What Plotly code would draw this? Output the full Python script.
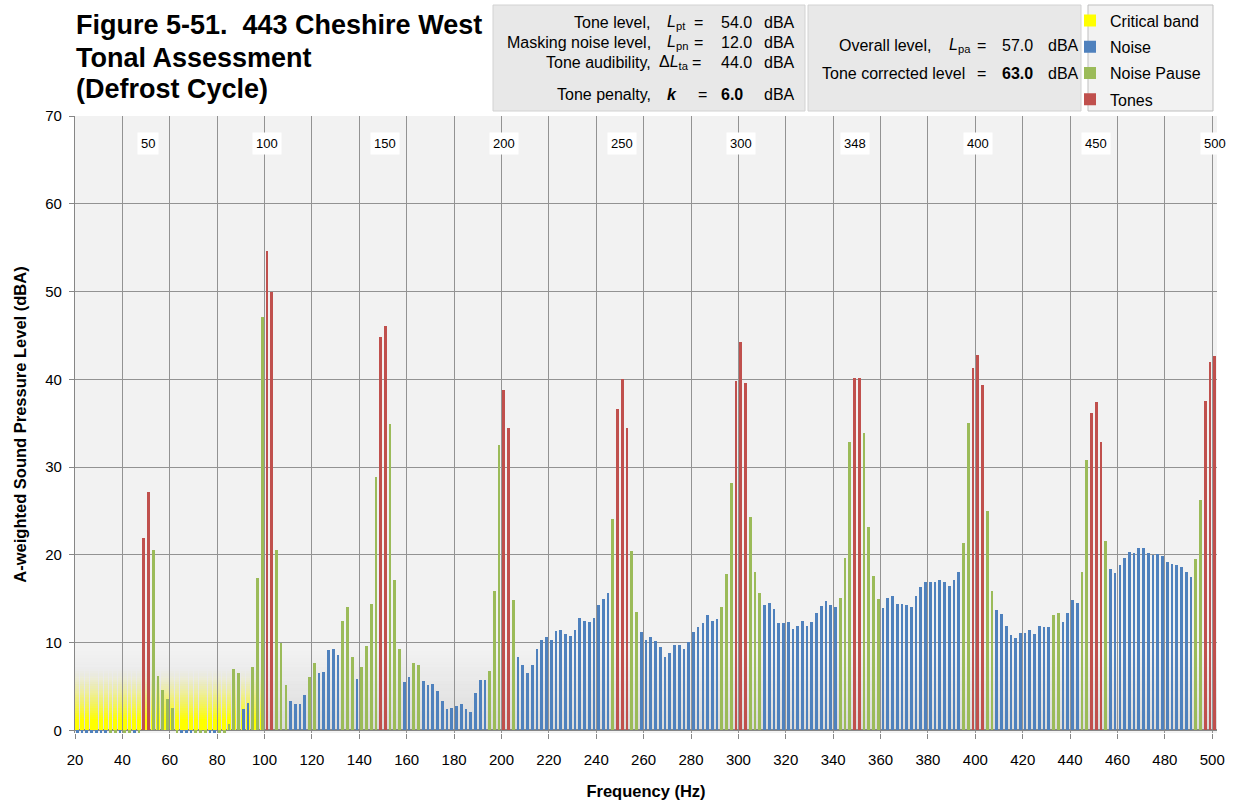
import plotly.graph_objects as go

# ---------------------------------------------------------------- data
BIN_HZ = 2
freqs = list(range(20, 501, BIN_HZ))

# A-weighted level per 2 Hz bin (dBA), 20 ... 500 Hz
levels = [
    -0.3, -0.3, -0.3, -0.3, -0.3, -0.3, -0.3, -0.3, -0.3, -0.3,   # 20-38
    -0.3, -0.3, -0.3, -0.3, 21.9, 27.2, 20.5, 6.2, 4.6, 3.6,      # 40-58
    2.6, -0.3, -0.3, -0.3, -0.3, -0.3, -0.3, -0.3, -0.3, -0.3,    # 60-78
    -0.3, -0.3, 0.7, 7.0, 6.5, 2.4, 3.1, 7.2, 17.4, 47.1,         # 80-98
    54.6, 49.9, 20.6, 9.9, 5.2, 3.4, 3.0, 3.0, 4.0, 6.1,          # 100-118
    7.65, 6.5, 6.6, 9.2, 9.25, 8.55, 12.5, 14.1, 8.4, 5.9,        # 120-138
    7.2, 9.6, 14.4, 28.9, 44.8, 46.1, 34.9, 17.1, 9.3, 5.5,       # 140-158
    6.1, 7.65, 7.5, 5.6, 5.2, 5.3, 4.5, 3.3, 2.4, 2.55,           # 160-178
    2.8, 3.0, 2.4, 2.1, 4.3, 5.75, 5.75, 6.8, 15.9, 32.5,         # 180-198
    38.8, 34.5, 14.9, 8.4, 7.5, 6.5, 7.5, 9.3, 10.3, 10.6,        # 200-218
    10.3, 11.3, 11.45, 11.0, 10.7, 11.45, 12.8, 12.5, 12.35, 12.8,  # 220-238
    14.25, 15.0, 15.6, 24.1, 36.6, 40.0, 34.4, 20.4, 13.5, 11.2,  # 240-258
    10.3, 10.6, 10.15, 9.55, 8.4, 8.8, 9.7, 9.7, 9.25, 10.1,      # 260-278
    11.2, 11.75, 12.2, 13.2, 12.5, 12.65, 14.1, 17.8, 28.2, 39.8, # 280-298
    44.2, 39.6, 24.3, 18.0, 15.7, 14.25, 14.5, 13.8, 12.2, 12.2,  # 300-318
    12.35, 11.6, 11.9, 12.5, 11.9, 12.35, 13.35, 14.2, 14.7, 14.25,  # 320-338
    14.1, 15.1, 19.6, 32.9, 40.2, 40.1, 33.9, 23.2, 17.6, 15.0,   # 340-358
    13.95, 15.1, 15.3, 14.4, 14.4, 14.25, 14.1, 15.3, 16.3, 16.9, # 360-378
    16.9, 16.9, 17.15, 16.9, 16.45, 17.15, 18.05, 21.4, 35.0, 41.3,  # 380-398
    42.8, 39.3, 25.0, 15.9, 13.7, 13.25, 11.9, 10.9, 10.5, 11.15, # 400-418
    11.15, 11.45, 11.0, 11.9, 11.75, 11.75, 13.2, 13.35, 12.35, 13.35,  # 420-438
    14.8, 14.5, 18.05, 30.8, 36.2, 37.4, 32.9, 21.6, 18.35, 17.9, # 440-458
    18.8, 19.65, 20.35, 20.2, 20.8, 20.8, 20.2, 20.0, 20.05, 19.9,  # 460-478
    19.2, 18.9, 18.8, 18.6, 18.05, 17.5, 19.5, 26.2, 37.5, 42.0,  # 480-498
    42.6,                                                          # 500
]

# bin classification: N = noise, P = noise pause, T = tone
classes = (
    "NNNNNNNPPNPPNP" "TT" "PPPPP" "PNNNPPPNNPP" "PPP" "NN" "PPP" "TT"
    "PPP" "NNNN" "PP" "NNNNN" "PPP" "N" "PPPP" "TT" "PPP" "NN" "PP"
    "NNNNNNNNNNNNNN" "PPP" "TT" "P" "NNNNNNNNNNNNNNNNNNNN" "P" "TTT" "PP"
    "NNNNNNNNNNNNNNNNN" "PPP" "TTT" "PPP" "NNNNNNNNNNNNNNNN" "PPP" "TT"
    "PPPP" "NNNNNNNNNNNNNNNNN" "PP" "TTT" "PP" "NNNNNNNNNNNN" "PP" "NNNN"
    "PP" "TTT" "P" "NNNNNNNNNNNNNNNNNN" "PP" "TTT"
)

# critical band shading
crit_freqs = list(range(20, 99, BIN_HZ))
CRIT_TOP = 7.0

# tone frequencies labelled along the top of the plot
tone_freqs = [50, 100, 150, 200, 250, 300, 348, 400, 450, 500]

x_ticks = list(range(20, 501, 20))
y_ticks = list(range(0, 71, 10))

# assessment results
tone_level = 54.0
masking_level = 12.0
audibility = 44.0
penalty = 6.0
overall_level = 57.0
corrected_level = 63.0

title_lines = ["Figure 5-51.\u00a0 443 Cheshire West", "Tonal Assessment", "(Defrost Cycle)"]

# ---------------------------------------------------------------- style
FONT = "Liberation Sans, Arial, sans-serif"
C_NOISE = "#4f81bd"
C_PAUSE = "#9bbb59"
C_TONE = "#c0504d"
C_CRIT = (255, 255, 0)
GRID = "#939393"
AXIS = "#868686"

W, H = 1241, 808
PL, PR, PT, PB = 75, 1217, 116, 733   # plot area in pixels
Y_MIN, Y_MAX = -0.3, 70
X_MIN, X_MAX = 20, 502

BAR_W = 1.15
CRIT_W = 1.65


def xp(px):
    return (px - PL) / (PR - PL)


def yp(py):
    return (PB - py) / (PB - PT)


fig = go.Figure()

# critical band: stacked translucent layers give a vertical fade
N_LAYERS = 28
dh = CRIT_TOP / N_LAYERS
for k in range(N_LAYERS):
    h = k * dh
    a = 1.0 if h < 1.0 else max(0.0, 1 - (h - 1.0) / (CRIT_TOP - 1.0)) ** 1.5
    fig.add_trace(go.Bar(
        x=crit_freqs, y=[dh] * len(crit_freqs), base=[h] * len(crit_freqs),
        width=CRIT_W, offset=BIN_HZ / 2 - CRIT_W / 2,
        marker=dict(color=f"rgba({C_CRIT[0]},{C_CRIT[1]},{C_CRIT[2]},{a:.3f})", line_width=0),
        name="Critical band", legendgroup="crit", showlegend=(k == 0),
        hoverinfo="skip",
    ))


def series(code):
    return [v if c == code else None for v, c in zip(levels, classes)]


for code, name, color in (("N", "Noise", C_NOISE),
                          ("P", "Noise Pause", C_PAUSE),
                          ("T", "Tones", C_TONE)):
    fig.add_trace(go.Bar(
        x=freqs, y=series(code), width=BAR_W, offset=BIN_HZ / 2 - BAR_W / 2,
        marker=dict(color=color, line_width=0), name=name, legendgroup=name,
    ))

shapes = []
# faint grey fade along the floor of the plot
G_TOP = 9.0
G_STEPS = 24
for k in range(G_STEPS):
    y0 = k * G_TOP / G_STEPS
    a = 0.42 * (1 - (k + 0.5) / G_STEPS)
    shapes.append(dict(type="rect", xref="x", yref="y", x0=X_MIN, x1=X_MAX,
                       y0=max(y0, 0), y1=y0 + G_TOP / G_STEPS, layer="below",
                       line_width=0, fillcolor=f"rgba(185,185,185,{a:.3f})"))

# info panels and legend frame
for x0, x1, fill, edge in ((493, 805, "#e8e8e8", "#d2d2d2"),
                           (808, 1081, "#e8e8e8", "#d2d2d2"),
                           (1088, 1213, "#f2f2f2", "#bfbfbf")):
    shapes.append(dict(type="rect", xref="paper", yref="paper",
                       x0=xp(x0), x1=xp(x1), y0=yp(111), y1=yp(5),
                       fillcolor=fill, line=dict(color=edge, width=1), layer="below"))

ann = []
for line, py in zip(title_lines, (25, 58, 89)):
    ann.append(dict(
        text=f"<b>{line}</b>", x=xp(74), y=yp(py), xref="paper", yref="paper",
        xanchor="left", yanchor="middle", align="left",
        font=dict(size=27, color="black", family=FONT), showarrow=False))


def cell(text, px, py, anchor):
    ann.append(dict(text=text, x=xp(px), y=yp(py), xref="paper", yref="paper",
                    xanchor=anchor, yanchor="middle", showarrow=False,
                    font=dict(size=16, color="black", family=FONT)))


rows = [
    ("Tone level,", "<i>L</i><sub>pt</sub>", 665, 699, f"{tone_level:.1f}", 22.5),
    ("Masking noise level,", "<i>L</i><sub>pn</sub>", 665, 699, f"{masking_level:.1f}", 42.5),
    ("Tone audibility,", "Δ<i>L</i><sub>ta</sub>", 657, 696, f"{audibility:.1f}", 62.5),
    ("Tone penalty,", "<b><i>k</i></b>", 665, 702, f"<b>{penalty:.1f}</b>", 94),
]
for label, sym, sx, ex, val, py in rows:
    cell(label, 653, py, "right")
    cell(sym, sx, py, "left")
    cell("=", ex, py, "center")
    cell(val, 719, py, "left")
    cell("dBA", 762, py, "left")

cell("Overall level,", 933, 45, "right")
cell("<i>L</i><sub>pa</sub>", 947, 45, "left")
cell("=", 982, 45, "center")
cell(f"{overall_level:.1f}", 1000, 45, "left")
cell("dBA", 1046, 45, "left")
cell("Tone corrected level", 967, 73, "right")
cell("=", 982, 73, "center")
cell(f"<b>{corrected_level:.1f}</b>", 1000, 73, "left")
cell("dBA", 1046, 73, "left")

# tone frequency tags
for f in tone_freqs:
    ann.append(dict(text=str(f), x=f + BIN_HZ / 2, y=66.85, xref="x", yref="y",
                    showarrow=False, bgcolor="white", borderpad=3,
                    font=dict(size=13, color="black", family=FONT)))

fig.update_layout(
    width=W, height=H, autosize=False,
    margin=dict(l=PL, r=W - PR, t=PT, b=H - PB, pad=0, autoexpand=False),
    paper_bgcolor="white", plot_bgcolor="#f2f2f2",
    barmode="overlay", bargap=0,
    font=dict(family=FONT, color="black"),
    shapes=shapes, annotations=ann,
    legend=dict(x=xp(1070), y=yp(3.5), xanchor="left", yanchor="top",
                bgcolor="rgba(0,0,0,0)", borderwidth=0, itemwidth=30,
                font=dict(size=16, family=FONT, color="black"),
                traceorder="grouped", tracegroupgap=2.5),
    xaxis=dict(range=[X_MIN, X_MAX], tickmode="array", tickvals=x_ticks,
               automargin=False,
               ticks="outside", ticklen=5, tickcolor=AXIS, tickwidth=1,
               ticklabelstandoff=8,
               showgrid=True, gridcolor=GRID, gridwidth=1.3,
               showline=False, zeroline=False,
               tickfont=dict(size=15, family=FONT, color="black"),
               title=dict(text="<b>Frequency (Hz)</b>", standoff=18,
                          font=dict(size=16.5, family=FONT, color="black"))),
    yaxis=dict(range=[Y_MIN, Y_MAX], tickmode="array", tickvals=y_ticks,
               automargin=False,
               ticks="outside", ticklen=5, tickcolor=AXIS, tickwidth=1,
               ticklabelstandoff=4,
               showgrid=True, gridcolor=GRID, gridwidth=1.3,
               showline=True, linecolor=AXIS, linewidth=1.3,
               zeroline=True, zerolinecolor=AXIS, zerolinewidth=1.6,
               tickfont=dict(size=15, family=FONT, color="black"),
               title=dict(text="<b>A-weighted Sound Pressure Level (dBA)</b>", standoff=14,
                          font=dict(size=16.5, family=FONT, color="black"))),
)

fig.write_html("out.html")
